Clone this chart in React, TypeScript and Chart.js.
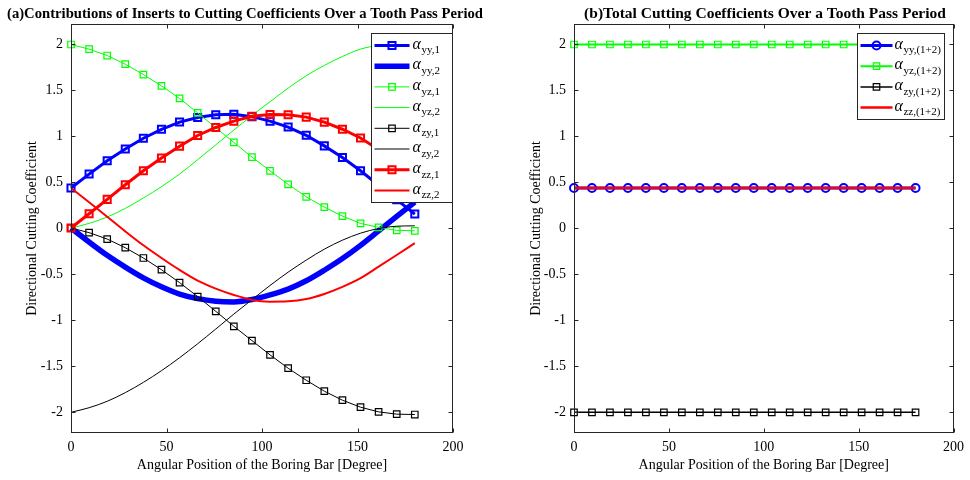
import React, { useEffect, useRef } from "react";
import { Chart, registerables } from "chart.js";
Chart.register(...registerables);

// ---------- data ----------
const angleDeg = [0, 9.47, 18.95, 28.42, 37.89, 47.37, 56.84, 66.32, 75.79, 85.26, 94.74, 104.21, 113.68, 123.16, 132.63, 142.11, 151.58, 161.05, 170.53, 180];
const xTickValues = [0, 50, 100, 150, 200];
const yTickValues = [-2, -1.5, -1, -0.5, 0, 0.5, 1, 1.5, 2];

const alphaYY1 = [0.435, 0.587, 0.732, 0.86, 0.977, 1.074, 1.153, 1.203, 1.232, 1.239, 1.212, 1.163, 1.099, 1.009, 0.894, 0.767, 0.623, 0.466, 0.309, 0.152];
const alphaYY2 = [0, -0.152, -0.297, -0.425, -0.542, -0.639, -0.718, -0.768, -0.797, -0.804, -0.777, -0.728, -0.664, -0.574, -0.459, -0.332, -0.188, -0.031, 0.126, 0.283];
const alphaYZ1 = [1.997, 1.946, 1.877, 1.783, 1.67, 1.547, 1.41, 1.253, 1.092, 0.931, 0.772, 0.623, 0.475, 0.34, 0.228, 0.13, 0.05, 0.008, -0.025, -0.03];
const alphaYZ2 = [0, 0.051, 0.12, 0.214, 0.327, 0.45, 0.587, 0.744, 0.905, 1.066, 1.225, 1.374, 1.522, 1.657, 1.769, 1.867, 1.947, 1.989, 2.022, 2.027];
const alphaZY1 = [0, -0.05, -0.12, -0.214, -0.326, -0.453, -0.594, -0.746, -0.906, -1.069, -1.225, -1.38, -1.525, -1.656, -1.775, -1.873, -1.949, -2.0, -2.025, -2.029];
const alphaZY2 = [-2.005, -1.955, -1.885, -1.791, -1.679, -1.552, -1.411, -1.259, -1.099, -0.936, -0.78, -0.625, -0.48, -0.349, -0.23, -0.132, -0.056, -0.005, 0.02, 0.024];
const alphaZZ1 = [0, 0.155, 0.312, 0.471, 0.623, 0.761, 0.891, 1.007, 1.094, 1.163, 1.217, 1.236, 1.232, 1.207, 1.152, 1.075, 0.98, 0.855, 0.728, 0.6];
const alphaZZ2 = [0.435, 0.28, 0.123, -0.036, -0.188, -0.326, -0.456, -0.572, -0.659, -0.728, -0.782, -0.801, -0.797, -0.772, -0.717, -0.64, -0.545, -0.42, -0.293, -0.165];

const totalYY = [0.435, 0.435, 0.435, 0.435, 0.435, 0.435, 0.435, 0.435, 0.435, 0.435, 0.435, 0.435, 0.435, 0.435, 0.435, 0.435, 0.435, 0.435, 0.435, 0.435];
const totalYZ = [1.997, 1.997, 1.997, 1.997, 1.997, 1.997, 1.997, 1.997, 1.997, 1.997, 1.997, 1.997, 1.997, 1.997, 1.997, 1.997, 1.997, 1.997, 1.997, 1.997];
const totalZY = [-2.005, -2.005, -2.005, -2.005, -2.005, -2.005, -2.005, -2.005, -2.005, -2.005, -2.005, -2.005, -2.005, -2.005, -2.005, -2.005, -2.005, -2.005, -2.005, -2.005];
const totalZZ = [0.435, 0.435, 0.435, 0.435, 0.435, 0.435, 0.435, 0.435, 0.435, 0.435, 0.435, 0.435, 0.435, 0.435, 0.435, 0.435, 0.435, 0.435, 0.435, 0.435];

const titleA = "(a)Contributions of Inserts to Cutting Coefficients Over a Tooth Pass Period";
const titleB = "(b)Total Cutting Coefficients Over a Tooth Pass Period";
const xTitle = "Angular Position of the Boring Bar [Degree]";
const yTitle = "Directional Cutting Coefficient";

const SERIF = '"Liberation Serif", "Times New Roman", serif';

type SeriesStyle = {
  label: string;
  sub: string;
  values: number[];
  color: string;
  width: number;
  marker?: "rect" | "circle";
  markerR?: number;
  markerW?: number;
  smooth?: boolean;
};

const leftSeries: SeriesStyle[] = [
  { label: "α", sub: "yy,1", values: alphaYY1, color: "#0000ff", width: 3, marker: "rect", markerR: 5, markerW: 2 },
  { label: "α", sub: "yy,2", values: alphaYY2, color: "#0000ff", width: 5.5, smooth: true },
  { label: "α", sub: "yz,1", values: alphaYZ1, color: "#00ff00", width: 1, marker: "rect", markerR: 4.6, markerW: 1.2 },
  { label: "α", sub: "yz,2", values: alphaYZ2, color: "#00ff00", width: 1, smooth: true },
  { label: "α", sub: "zy,1", values: alphaZY1, color: "#000000", width: 1, marker: "rect", markerR: 4.6, markerW: 1.2 },
  { label: "α", sub: "zy,2", values: alphaZY2, color: "#000000", width: 1, smooth: true },
  { label: "α", sub: "zz,1", values: alphaZZ1, color: "#ff0000", width: 3, marker: "rect", markerR: 5, markerW: 2 },
  { label: "α", sub: "zz,2", values: alphaZZ2, color: "#ff0000", width: 2, smooth: true },
];

const rightSeries: SeriesStyle[] = [
  { label: "α", sub: "yy,(1+2)", values: totalYY, color: "#0000ff", width: 3, marker: "circle", markerR: 4, markerW: 2 },
  { label: "α", sub: "yz,(1+2)", values: totalYZ, color: "#00ff00", width: 2, marker: "rect", markerR: 4.6, markerW: 1.2 },
  { label: "α", sub: "zy,(1+2)", values: totalZY, color: "#000000", width: 1.5, marker: "rect", markerR: 4.6, markerW: 1.2 },
  { label: "α", sub: "zz,(1+2)", values: totalZZ, color: "#ff0000", width: 2.5 },
];

type PanelCfg = {
  series: SeriesStyle[];
  title: string;
  titleX: number; // relative to canvas
  titleMaxW: number;
  yAxisWidth: number;
  padRight: number;
  yTitlePad: number;
  legend: { insetRight: number; width: number; height: number; top: number; lineX0: number; lineX1: number; textX: number; rowGap: number; firstRow: number };
};

function drawMarker(ctx: CanvasRenderingContext2D, s: SeriesStyle, x: number, y: number) {
  if (!s.marker) return;
  ctx.save();
  ctx.strokeStyle = s.color;
  ctx.lineWidth = s.markerW || 1;
  const r = s.markerR || 4;
  ctx.beginPath();
  if (s.marker === "rect") {
    const h = Math.SQRT1_2 * r;
    ctx.rect(x - h, y - h, 2 * h, 2 * h);
  } else {
    ctx.arc(x, y, r, 0, Math.PI * 2);
  }
  ctx.stroke();
  ctx.restore();
}

function makePlugin(cfg: PanelCfg) {
  return {
    id: "matlabDecor",
    afterDatasetsDraw(chart: any) {
      const { ctx, chartArea, scales } = chart;
      const { left, right, top, bottom } = chartArea;
      ctx.save();
      ctx.strokeStyle = "#262626";
      ctx.lineWidth = 1;
      const L = Math.round(left) + 0.5, R = Math.round(right) - 0.5, T = Math.round(top) + 0.5, B = Math.round(bottom) - 0.5;
      ctx.strokeRect(L, T, R - L, B - T);
      const tl = 4;
      ctx.beginPath();
      xTickValues.forEach((v) => {
        const px = Math.round(scales.x.getPixelForValue(v)) + 0.5;
        ctx.moveTo(px, B); ctx.lineTo(px, B - tl);
        ctx.moveTo(px, T); ctx.lineTo(px, T + tl);
      });
      yTickValues.forEach((v) => {
        const py = Math.round(scales.y.getPixelForValue(v)) + 0.5;
        ctx.moveTo(L, py); ctx.lineTo(L + tl, py);
        ctx.moveTo(R, py); ctx.lineTo(R - tl, py);
      });
      ctx.stroke();
      ctx.restore();
    },
    afterDraw(chart: any) {
      const { ctx, chartArea } = chart;
      // title
      ctx.save();
      ctx.fillStyle = "#000";
      ctx.font = `bold 15.5px ${SERIF}`;
      ctx.textAlign = "center";
      ctx.textBaseline = "middle";
      ctx.fillText(cfg.title, cfg.titleX, 14, cfg.titleMaxW);
      ctx.restore();

      // legend
      const lg = cfg.legend;
      const bx = Math.round(chartArea.right - lg.insetRight - lg.width) + 0.5;
      const by = Math.round(chartArea.top + lg.top) + 0.5;
      ctx.save();
      ctx.fillStyle = "#ffffff";
      ctx.fillRect(bx, by, lg.width, lg.height);
      ctx.strokeStyle = "#262626";
      ctx.lineWidth = 1;
      ctx.strokeRect(bx, by, lg.width, lg.height);
      cfg.series.forEach((s, i) => {
        const cy = by + lg.firstRow + i * lg.rowGap;
        ctx.save();
        ctx.strokeStyle = s.color;
        ctx.lineWidth = s.width;
        ctx.beginPath();
        ctx.moveTo(bx + lg.lineX0, cy);
        ctx.lineTo(bx + lg.lineX1, cy);
        ctx.stroke();
        ctx.restore();
        drawMarker(ctx, s, bx + (lg.lineX0 + lg.lineX1) / 2, cy);
        ctx.fillStyle = "#000";
        ctx.textAlign = "left";
        ctx.textBaseline = "middle";
        ctx.font = `italic 16px ${SERIF}`;
        const tx = bx + lg.textX;
        ctx.fillText(s.label, tx, cy - 1);
        const w = ctx.measureText(s.label).width;
        ctx.font = `11px ${SERIF}`;
        ctx.fillText(s.sub, tx + w + 0.5, cy + 5);
      });
      ctx.restore();
    },
  };
}

function buildConfig(cfg: PanelCfg): any {
  const n = cfg.series.length;
  const datasets = cfg.series.map((s, i) => ({
    label: s.label + s.sub,
    data: angleDeg.map((a, k) => ({ x: a, y: s.values[k] })),
    borderColor: s.color,
    backgroundColor: "rgba(0,0,0,0)",
    borderWidth: s.width,
    pointStyle: s.marker === "circle" ? "circle" : "rect",
    pointRadius: s.marker ? s.markerR : 0,
    pointBorderWidth: s.markerW || 1,
    pointBorderColor: s.color,
    pointBackgroundColor: "rgba(0,0,0,0)",
    pointHoverRadius: s.marker ? s.markerR : 0,
    cubicInterpolationMode: s.smooth ? "monotone" : "default",
    tension: 0,
    fill: false,
    clip: false,
    order: n - 1 - i,
  }));
  return {
    type: "line",
    data: { datasets },
    options: {
      animation: false,
      responsive: false,
      devicePixelRatio: 1,
      layout: { padding: { top: 24, right: cfg.padRight, left: 0, bottom: 0 } },
      plugins: { legend: { display: false }, tooltip: { enabled: false }, title: { display: false } },
      scales: {
        x: {
          type: "linear",
          min: 0,
          max: 200,
          grid: { display: false, drawTicks: false },
          border: { display: false },
          afterBuildTicks: (sc: any) => { sc.ticks = xTickValues.map((v) => ({ value: v })); },
          afterFit: (sc: any) => { sc.height = 47; },
          ticks: { color: "#000", font: { family: SERIF, size: 14 }, padding: 6, maxRotation: 0, callback: (v: any) => String(v) },
          title: { display: true, text: xTitle, color: "#000", font: { family: SERIF, size: 14, lineHeight: 1.2 }, padding: { top: 0, bottom: 6 } },
        },
        y: {
          type: "linear",
          min: -2.23,
          max: 2.22,
          grid: { display: false, drawTicks: false },
          border: { display: false },
          afterBuildTicks: (sc: any) => { sc.ticks = yTickValues.map((v) => ({ value: v })); },
          afterFit: (sc: any) => { sc.width = cfg.yAxisWidth; },
          ticks: { color: "#000", font: { family: SERIF, size: 14 }, padding: 8, callback: (v: any) => String(v) },
          title: { display: true, text: yTitle, color: "#000", font: { family: SERIF, size: 14, lineHeight: 1.2 }, padding: { top: cfg.yTitlePad, bottom: 0 } },
        },
      },
    },
    plugins: [makePlugin(cfg)],
  };
}

const leftCfg: PanelCfg = {
  series: leftSeries,
  title: titleA,
  titleX: 245,
  titleMaxW: 476,
  yAxisWidth: 71,
  padRight: 32,
  yTitlePad: 24,
  legend: { insetRight: 1, width: 81, height: 169, top: 9, lineX0: 3, lineX1: 38, textX: 41, rowGap: 20.7, firstRow: 12 },
};

const rightCfg: PanelCfg = {
  series: rightSeries,
  title: titleB,
  titleX: 280,
  titleMaxW: 480,
  yAxisWidth: 89,
  padRight: 13,
  yTitlePad: 43,
  legend: { insetRight: 10, width: 87, height: 86, top: 9, lineX0: 3, lineX1: 35, textX: 37, rowGap: 20.7, firstRow: 12 },
};

function Panel({ cfg, left }: { cfg: PanelCfg; left: number }) {
  const ref = useRef<HTMLCanvasElement | null>(null);
  useEffect(() => {
    if (!ref.current) return;
    const chart = new Chart(ref.current, buildConfig(cfg));
    return () => chart.destroy();
  }, []);
  return (
    <canvas
      ref={ref}
      width={485}
      height={480}
      style={{ position: "absolute", left, top: 0, width: 485, height: 480 }}
    />
  );
}

export default function App() {
  return (
    <div style={{ position: "fixed", left: 0, top: 0, width: 970, height: 480, background: "#fff" }}>
      <Panel cfg={leftCfg} left={0} />
      <Panel cfg={rightCfg} left={485} />
    </div>
  );
}
